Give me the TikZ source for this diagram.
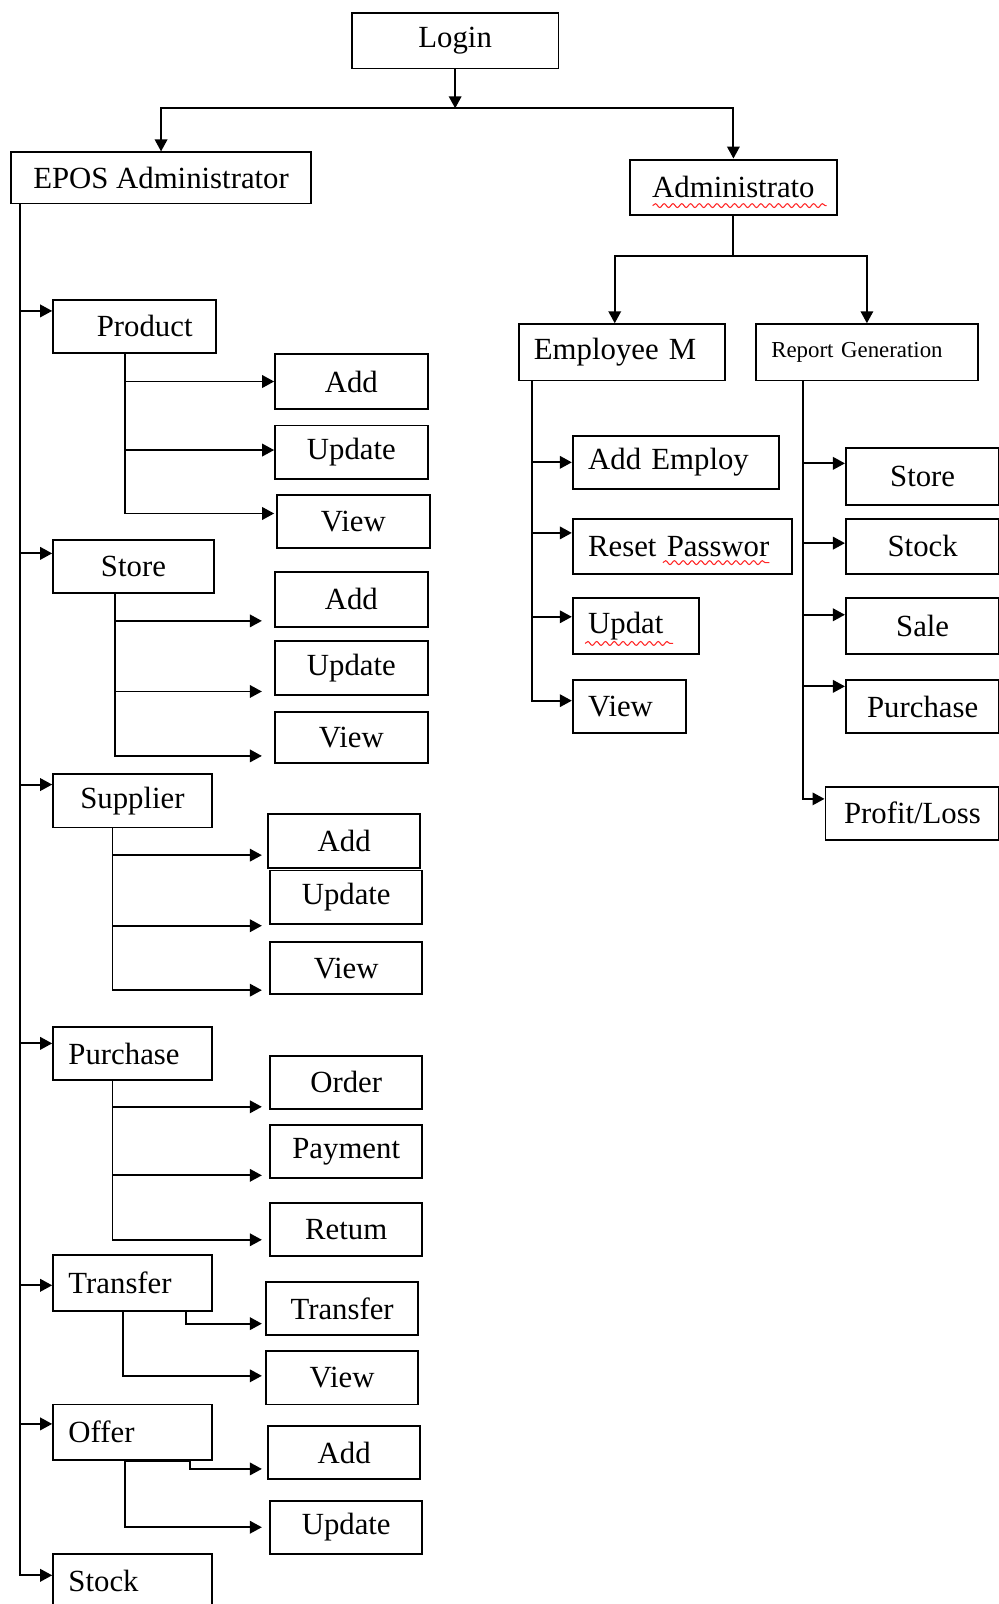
\documentclass[tikz,border=0pt]{standalone}
\usepackage{fontspec}
\setmainfont{Liberation Serif}
\usepackage{tikz}
\usetikzlibrary{arrows.meta, positioning, decorations.pathmorphing}
\newcommand{\pxu}{0.02045cm}

\begin{document}
\begin{tikzpicture}[
		x=\pxu, y=-\pxu,
		line width=1.1pt,
		box/.style 2 args={
			draw,
			anchor=north west,
			minimum width=#1*\pxu,
			minimum height=#2*\pxu,
			inner sep=0pt,
			font=\fontsize{17.5}{20}\selectfont},
		lbox/.style 2 args={
			box={#1}{#2},
			text width=(#1-30)*\pxu,
			inner xsep=15*\pxu,
			align=left},
		arr/.style={-{Triangle[length=0.24cm,width=0.25cm]}},
		spell/.style={draw=red!85, line width=0.6pt, decorate,
			decoration={snake, amplitude=1.1pt, segment length=5pt}}
		]
		\useasboundingbox (0,0) rectangle (976,1568);
		
		% draw top levels
		\node[box={202}{54}] (login) at (343,12) {Login};
		\node[box={293}{50}] (epos) at (10,148) {EPOS Administrator};
		\node[box={202}{54}] (admin) at (615,155) {Administrato};
		\node[lbox={202}{55}] (empm) at (506,316) {Employee M};
		\node[lbox={217}{55}, font=\fontsize{13}{15}\selectfont] (report) at (738,316) {Report Generation};
		
		\path (login.south) ++(0,38) coordinate (split);
		\draw[arr] (login.south) -- (split);
		\draw[arr] (split) -| (epos.north);
		\draw[arr] (split) -| (admin.north);
		
		\path (admin.south) ++(0,39) coordinate (split2);
		\draw (admin.south) -- (split2);
		\draw[arr] (split2) -| ([xshift=-7*\pxu]empm.north);
		\draw[arr] (split2) -| (report.north);
		
		% draw EPOS modules
		\node[box={159}{52}] (product) at (51,292) {\hspace{0.41cm}Product};
		\node[box={157}{52}] (store) at (51,527) {Store};
		\node[box={155}{52}] (supplier) at (51,756) {Supplier};
		\node[lbox={155}{52}] (purchase) at (51,1003) {Purchase};
		\node[lbox={155}{55}] (transfer) at (51,1226) {Transfer};
		\node[lbox={155}{54}] (offer) at (51,1372) {Offer};
		\node[lbox={155}{54}] (stock) at (51,1518) {Stock};
		
		% draw EPOS actions
		\node[box={149}{54}] (pAdd) at (268,345) {Add};
		\node[box={149}{52}] (pUpd) at (268,415) {Update};
		\node[box={149}{52}] (pView) at (270,483) {View};
		\node[box={149}{54}] (sAdd) at (268,558) {Add};
		\node[box={149}{52}] (sUpd) at (268,626) {Update};
		\node[box={149}{50}] (sView) at (268,695) {View};
		\node[box={149}{53}] (uAdd) at (261,795) {Add};
		\node[box={149}{52}] (uUpd) at (263,850) {Update};
		\node[box={149}{51}] (uView) at (263,920) {View};
		\node[box={149}{52}] (order) at (263,1031) {Order};
		\node[box={149}{52}] (payment) at (263,1099) {Payment};
		\node[box={149}{52}] (retum) at (263,1175) {Retum};
		\node[box={149}{52}] (tTrans) at (259,1252) {Transfer};
		\node[box={149}{52}] (tView) at (259,1320) {View};
		\node[box={149}{52}] (oAdd) at (261,1393) {Add};
		\node[box={149}{52}] (oUpd) at (263,1466) {Update};
		
		% draw administrator actions
		\node[lbox={202}{52}] (addemp) at (559,425) {Add Employ};
		\node[lbox={214}{54}] (resetpw) at (559,506) {Reset Passwor};
		\node[lbox={123}{54}] (updemp) at (559,584) {Updat};
		\node[lbox={111}{52}] (viewemp) at (559,664) {View};
		\node[box={150}{56}] (rstore) at (826,437) {Store};
		\node[box={150}{54}] (rstock) at (826,506) {Stock};
		\node[box={150}{54}] (rsale) at (826,584) {Sale};
		\node[box={150}{52}] (rpurch) at (826,664) {Purchase};
		\node[box={170}{52}] (rprofit) at (806,768) {Profit/Loss};
		
		% spelling marks
		\draw[spell] (638,201) -- (808,201);
		\draw[spell] (648,550) -- (752,550);
		\draw[spell] (572,629) -- (658,629);
		
		% connectors parent -> child
		\foreach \n/\dy in {product/15, store/13, supplier/16, purchase/10, transfer/-2, offer/8, stock/6}
		\draw[arr] ([xshift=10*\pxu]epos.south west) |- ([yshift=\dy*\pxu]\n.west);
		
		\foreach \p/\dx/\c/\dy/\g in {product/71/pAdd/0/0, product/71/pUpd/2/0, product/71/pView/8/2,
			store/61/sAdd/-21/12, store/61/sUpd/-23/12, store/61/sView/-18/12,
			supplier/59/uAdd/-13.5/5, supplier/59/uUpd/-28/7, supplier/59/uView/-21.5/7,
			purchase/59/order/-24/7, purchase/59/payment/-23/7, purchase/59/retum/-10/7,
			transfer/131/tTrans/-15/3, transfer/69/tView/2/3,
			offer/71/oUpd/0/7,
			empm/14/addemp/0/0, empm/14/resetpw/13/0, empm/14/updemp/9/0, empm/14/viewemp/6/0,
			report/47/rstore/13/0, report/47/rstock/3/0, report/47/rsale/11/0,
			report/47/rpurch/20/0, report/47/rprofit/14/0}
		\draw[arr] ([xshift=\dx*\pxu]\p.south west) |- ([xshift=-\g*\pxu, yshift=\dy*\pxu]\c.west);
		
		\draw[arr] ([xshift=71*\pxu]offer.south west) -- ([xshift=135*\pxu]offer.south west)
			|- ([xshift=-5*\pxu, yshift=-16*\pxu]oAdd.west);
		
		\end{tikzpicture}
\end{document}
